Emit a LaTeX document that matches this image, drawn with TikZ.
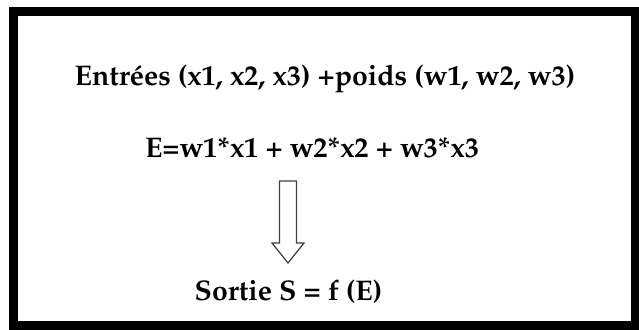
\documentclass[tikz,border=0pt]{standalone}
\usepackage[T1]{fontenc}
\usepackage{mathpazo}
\usepackage{tikz}
\usetikzlibrary{positioning,calc}

\begin{document}
\begin{tikzpicture}[x=0.5pt,y=-0.5pt,
 txt/.style={font=\fontsize{14.2}{16}\selectfont\bfseries,inner sep=0pt,anchor=base},
 hollow/.style={draw=black!75,line width=0.6pt,fill=white}]
\useasboundingbox (0,0) rectangle (639,329);
\draw[line width=4.5pt] (13.5,11.5) rectangle (635.5,325.5);
\node[txt] (inputs) at (325,85) {Entrées (x1, x2, x3) +poids (w1, w2, w3)};
\node[txt] (sum) at (312,157) {E=w1*x1 + w2*x2 + w3*x3};
\node[txt] (output) at (288.5,300) {Sortie S = f (E)};
% hollow arrow from the sum to the output
\coordinate (top) at (288,181);
\coordinate (tip) at (288,263);
\draw[hollow] ($(top)+(-8.5,0)$) -- ($(top)+(8.5,0)$) -- ($(top)+(8.5,62)$) -- ($(top)+(16,62)$)
 -- (tip) -- ($(top)+(-16,62)$) -- ($(top)+(-8.5,62)$) -- cycle;
\end{tikzpicture}
\end{document}
